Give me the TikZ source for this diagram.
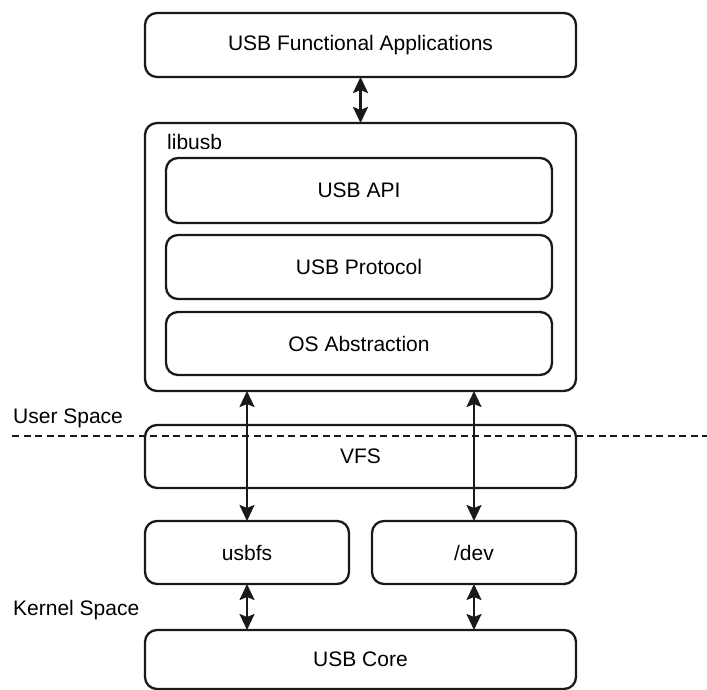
\documentclass[tikz,border=0pt]{standalone}
\usepackage{fontspec}
\setmainfont{Liberation Sans}
\usetikzlibrary{arrows.meta}
\begin{document}
\begin{tikzpicture}[x=1pt,y=-1pt,
  box/.style={draw=black!90, line width=2.3pt, rounded corners=12pt, fill=white,
              inner sep=0pt, outer sep=0pt, anchor=center,
              font=\fontsize{21}{25}\selectfont},
  lbl/.style={anchor=west, inner sep=0pt, font=\fontsize{21}{25}\selectfont},
  link/.style={line width=2.3pt, black!90, {Stealth[length=16pt,width=15pt,inset=3pt]}-{Stealth[length=16pt,width=15pt,inset=3pt]}},
  sep/.style={line width=2.3pt, black!90, dash pattern=on 7pt off 4.5pt}]
\useasboundingbox (0,0) rectangle (707,690);
\node[box, minimum width=431pt, minimum height=64pt] (apps) at (360.5,45) {USB Functional Applications};
\node[box, minimum width=431pt, minimum height=268pt] (libusb) at (360.5,257) {};
\node[lbl] (liblabel) at (167,142) {libusb};
\node[box, minimum width=386pt, minimum height=65pt] (api) at (359,190.5) {USB API};
\node[box, minimum width=386pt, minimum height=64pt] (proto) at (359,267) {USB Protocol};
\node[box, minimum width=386pt, minimum height=63pt] (osabs) at (359,343.5) {OS Abstraction};
\node[box, minimum width=431pt, minimum height=63pt] (vfs) at (360.5,456.5) {VFS};
\node[box, minimum width=204pt, minimum height=63pt] (usbfs) at (247,552.5) {usbfs};
\node[box, minimum width=204pt, minimum height=63pt] (dev) at (474,552.5) {/dev};
\node[box, minimum width=431pt, minimum height=59pt] (core) at (360.5,659.5) {USB Core};
\node[lbl] (user) at (13,418) {User Space};
\node[lbl] (kernel) at (13,610) {Kernel Space};
\coordinate (dashL) at (12,436);
\coordinate (dashR) at (707,436);
\draw[sep] (dashL) -- (dashR);
\draw[link] (apps.south) -- (libusb.north);
\draw[link] (usbfs.north |- libusb.south) -- (usbfs.north);
\draw[link] (dev.north |- libusb.south) -- (dev.north);
\draw[link] (usbfs.south) -- (usbfs.south |- core.north);
\draw[link] (dev.south) -- (dev.south |- core.north);
\end{tikzpicture}
\end{document}
